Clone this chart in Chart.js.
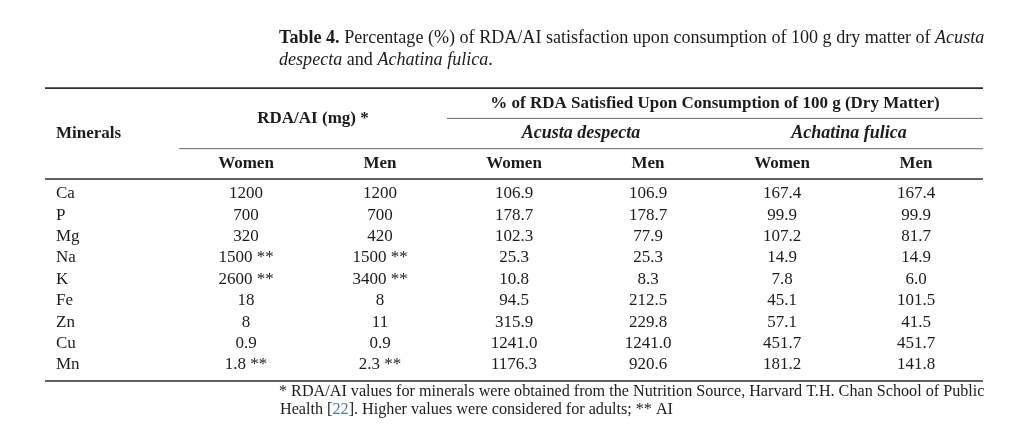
<!DOCTYPE html>
<html>
<head>
<meta charset="utf-8">
<script src="https://cdn.jsdelivr.net/npm/chart.js@4.4.1/dist/chart.umd.min.js"></script>
<style>
  html, body { margin: 0; padding: 0; background: #ffffff; }
  #wrap { width: 1024px; height: 432px; }
</style>
</head>
<body>
<div id="wrap"><canvas id="c" width="1024" height="432"></canvas></div>
<script>
// ---------------- DATA ----------------
const minerals = ['Ca', 'P', 'Mg', 'Na', 'K', 'Fe', 'Zn', 'Cu', 'Mn'];
const columnKeys = ['Minerals', 'RDA Women', 'RDA Men', 'AD Women', 'AD Men', 'AF Women', 'AF Men'];
const sexLabels = ['Women', 'Men'];
const speciesLabels = ['Acusta despecta', 'Achatina fulica'];

const rdaWomen = [1200, 700, 320, 1500, 2600, 18, 8, 0.9, 1.8];
const rdaWomenAI = [false, false, false, true, true, false, false, false, true];
const rdaMen = [1200, 700, 420, 1500, 3400, 8, 11, 0.9, 2.3];
const rdaMenAI = [false, false, false, true, true, false, false, false, true];

const acustaWomen = [106.9, 178.7, 102.3, 25.3, 10.8, 94.5, 315.9, 1241.0, 1176.3];
const acustaMen = [106.9, 178.7, 77.9, 25.3, 8.3, 212.5, 229.8, 1241.0, 920.6];
const achatinaWomen = [167.4, 99.9, 107.2, 14.9, 7.8, 45.1, 57.1, 451.7, 181.2];
const achatinaMen = [167.4, 99.9, 81.7, 14.9, 6.0, 101.5, 41.5, 451.7, 141.8];

// ---------------- CELL TEXT ----------------
const rdaText = (vals, ai) => vals.map((v, i) => String(v) + (ai[i] ? ' **' : ''));
const pctText = vals => vals.map(v => v.toFixed(1));
const columnTexts = [
  minerals.slice(),
  rdaText(rdaWomen, rdaWomenAI),
  rdaText(rdaMen, rdaMenAI),
  pctText(acustaWomen),
  pctText(acustaMen),
  pctText(achatinaWomen),
  pctText(achatinaMen)
];

const datasets = columnKeys.map((key, c) => ({
  label: key,
  data: minerals.map(m => ({ x: key, y: m })),
  cellText: columnTexts[c],
  pointRadius: 0,
  pointHoverRadius: 0,
  showLine: false
}));

// ---------------- STYLE ----------------
const FAMILY = '"Liberation Serif", "DejaVu Serif", serif';
const INK = '#1c1c1c';
const font = (size, weight, style) => `${style || 'normal'} ${weight || 'normal'} ${size}px ${FAMILY}`;

function runsWidth(ctx, runs) {
  let w = 0;
  runs.forEach(r => { ctx.font = r.font; w += ctx.measureText(r.text).width; });
  return w;
}
function drawRuns(ctx, runs, x, y, align) {
  const w = runsWidth(ctx, runs);
  let cx = align === 'center' ? x - w / 2 : (align === 'right' ? x - w : x);
  ctx.textAlign = 'left';
  ctx.textBaseline = 'middle';
  runs.forEach(r => {
    ctx.font = r.font;
    ctx.fillStyle = r.color || INK;
    ctx.fillText(r.text, cx, y);
    cx += ctx.measureText(r.text).width;
  });
}
function fitSize(ctx, makeRuns, target, base) {
  const w = runsWidth(ctx, makeRuns(base));
  return base * target / w;
}
function hLine(ctx, x1, x2, y, width, color) {
  ctx.beginPath();
  ctx.moveTo(x1, y);
  ctx.lineTo(x2, y);
  ctx.lineWidth = width;
  ctx.strokeStyle = color;
  ctx.stroke();
}

const tablePlugin = {
  id: 'tableDraw',
  afterDatasetsDraw(chart) {
    const ctx = chart.ctx;
    const xs = chart.scales.x;
    const area = chart.chartArea;
    const colW = xs.getPixelForValue(1) - xs.getPixelForValue(0);
    const edge = i => xs.getPixelForValue(i) - colW / 2;
    const center = i => xs.getPixelForValue(i);
    const left = edge(0), right = edge(columnKeys.length);

    const headRowH = 30.3;
    const headBottom = area.top - 4;
    const ruleTop = headBottom - 3 * headRowH;
    const rule2 = headBottom - 2 * headRowH;
    const rule3 = headBottom - headRowH;
    const ruleBottom = area.bottom + 5.3;

    ctx.save();
    // rules
    hLine(ctx, left, right, ruleTop, 1.6, '#2e2e2e');
    hLine(ctx, edge(3), right, rule2, 1, '#666');
    hLine(ctx, edge(1), right, rule3, 1, '#666');
    hLine(ctx, left, right, headBottom, 1.6, '#2e2e2e');
    hLine(ctx, left, right, ruleBottom, 1.6, '#2e2e2e');

    const bold = font(17, 'bold');
    // header
    drawRuns(ctx, [{ text: 'Minerals', font: bold }], edge(0) + 11, (ruleTop + headBottom) / 2 + 0.5, 'left');
    drawRuns(ctx, [{ text: 'RDA/AI (mg) *', font: bold }], (edge(1) + edge(3)) / 2, (ruleTop + rule3) / 2, 'center');
    drawRuns(ctx, [{ text: '% of RDA Satisfied Upon Consumption of 100 g (Dry Matter)', font: bold }],
      (edge(3) + right) / 2, (ruleTop + rule2) / 2, 'center');
    speciesLabels.forEach((s, k) => {
      drawRuns(ctx, [{ text: s, font: font(18, 'bold', 'italic') }],
        (edge(3 + 2 * k) + edge(5 + 2 * k)) / 2, (rule2 + rule3) / 2, 'center');
    });
    for (let c = 1; c < columnKeys.length; c++) {
      drawRuns(ctx, [{ text: sexLabels[(c - 1) % 2], font: bold }], center(c), (rule3 + headBottom) / 2, 'center');
    }

    // cells, positioned by the chart's own scales
    chart.data.datasets.forEach((ds, c) => {
      const meta = chart.getDatasetMeta(c);
      meta.data.forEach((pt, r) => {
        const txt = ds.cellText[r];
        if (c === 0) {
          drawRuns(ctx, [{ text: txt, font: font(17) }], edge(0) + 11, pt.y, 'left');
        } else {
          drawRuns(ctx, [{ text: txt, font: font(17) }], pt.x, pt.y, 'center');
        }
      });
    });

    // caption
    const capX = 279;
    const cap1 = s => [
      { text: 'Table 4.', font: font(s, 'bold') },
      { text: ' Percentage (%) of RDA/AI satisfaction upon consumption of 100 g dry matter of ', font: font(s) },
      { text: 'Acusta', font: font(s, 'normal', 'italic') }
    ];
    const cap2 = s => [
      { text: 'despecta', font: font(s, 'normal', 'italic') },
      { text: ' and ', font: font(s) },
      { text: 'Achatina fulica', font: font(s, 'normal', 'italic') },
      { text: '.', font: font(s) }
    ];
    const capSize = fitSize(ctx, cap1, right + 2 - capX, 16);
    drawRuns(ctx, cap1(capSize), capX, ruleTop - 50, 'left');
    drawRuns(ctx, cap2(capSize), capX, ruleTop - 28, 'left');

    // footnote
    const fn1 = s => [
      { text: '* RDA/AI values for minerals were obtained from the Nutrition Source, Harvard T.H. Chan School of Public', font: font(s) }
    ];
    const fn2 = s => [
      { text: 'Health [', font: font(s) },
      { text: '22', font: font(s), color: '#3a78c0' },
      { text: ']. Higher values were considered for adults; ** AI', font: font(s) }
    ];
    const fnSize = fitSize(ctx, fn1, right + 2 - capX, 14);
    drawRuns(ctx, fn1(fnSize), capX, ruleBottom + 11, 'left');
    drawRuns(ctx, fn2(fnSize), capX + 1, ruleBottom + 28.5, 'left');
    ctx.restore();
  }
};

new Chart(document.getElementById('c'), {
  type: 'scatter',
  data: { datasets },
  options: {
    responsive: false,
    animation: false,
    events: [],
    layout: { padding: { left: 45, right: 41, top: 183, bottom: 56.3 } },
    scales: {
      x: { type: 'category', labels: columnKeys, offset: true, display: false },
      y: { type: 'category', labels: minerals, offset: true, display: false }
    },
    plugins: { legend: { display: false }, tooltip: { enabled: false }, title: { display: false } }
  },
  plugins: [tablePlugin]
});
</script>
</body>
</html>
